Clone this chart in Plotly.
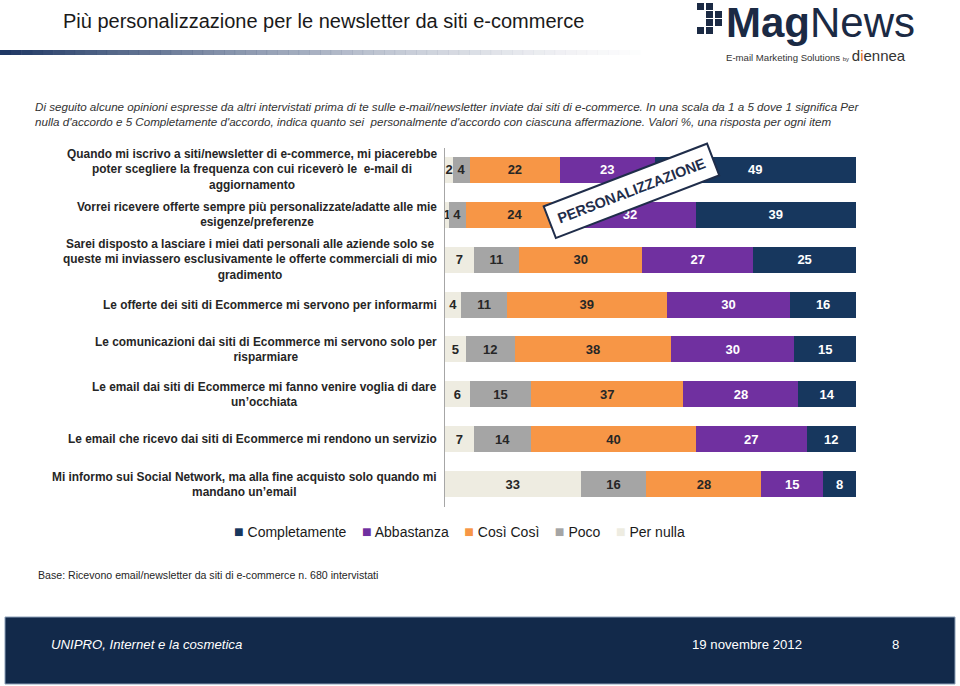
import plotly.graph_objects as go

categories = [
    "Quando mi iscrivo a siti/newsletter di e-commerce, mi piacerebbe<br>poter scegliere la frequenza con cui riceverò le  e-mail di<br>aggiornamento",
    "Vorrei ricevere offerte sempre più personalizzate/adatte alle mie<br>esigenze/preferenze",
    "Sarei disposto a lasciare i miei dati personali alle aziende solo se<br>queste mi inviassero esclusivamente le offerte commerciali di mio<br>gradimento",
    "Le offerte dei siti di Ecommerce mi servono per informarmi",
    "Le comunicazioni dai siti di Ecommerce mi servono solo per<br>risparmiare",
    "Le email dai siti di Ecommerce mi fanno venire voglia di dare<br>un’occhiata",
    "Le email che ricevo dai siti di Ecommerce mi rendono un servizio",
    "Mi informo sui Social Network, ma alla fine acquisto solo quando mi<br>mandano un’email",
]
per_nulla = [2, 1, 7, 4, 5, 6, 7, 33]
poco = [4, 4, 11, 11, 12, 15, 14, 16]
cosi_cosi = [22, 24, 30, 39, 38, 37, 40, 28]
abbastanza = [23, 32, 27, 30, 30, 28, 27, 15]
completamente = [49, 39, 25, 16, 15, 14, 12, 8]

series = [
    ("Per nulla", per_nulla, "#EEECE1", "#262626"),
    ("Poco", poco, "#A5A5A5", "#262626"),
    ("Così Così", cosi_cosi, "#F79646", "#262626"),
    ("Abbastanza", abbastanza, "#7030A0", "#FFFFFF"),
    ("Completamente", completamente, "#17375E", "#FFFFFF"),
]

W, H = 960, 686
def px(x): return x / W
def py(y): return 1 - y / H

FONT = "Liberation Sans, Arial, sans-serif"

fig = go.Figure()
for name, vals, color, tcolor in series:
    fig.add_trace(go.Bar(
        name=name, y=categories, x=vals, orientation="h",
        marker=dict(color=color, line=dict(width=0)),
        text=["<b>%d</b>" % v for v in vals], textposition="inside",
        insidetextanchor="middle", textangle=0,
        textfont=dict(family=FONT, size=13, color=tcolor),
        hoverinfo="skip", showlegend=False,
    ))

fig.update_layout(
    width=W, height=H, barmode="stack", bargap=0.42,
    margin=dict(l=0, r=0, t=0, b=0),
    paper_bgcolor="white", plot_bgcolor="white",
    font=dict(family=FONT, color="#262626"),
    uniformtext=dict(minsize=13, mode="show"),
    xaxis=dict(domain=[px(445), px(856)], range=[0, 100], showgrid=False,
               zeroline=False, showticklabels=False, showline=False, fixedrange=True),
    yaxis=dict(domain=[py(506.5), py(147.5)], categoryorder="array",
               categoryarray=categories, range=[7.5, -0.5], showgrid=False,
               zeroline=False, showticklabels=False, showline=True,
               linecolor="#A6A6A6", linewidth=1, ticks="", fixedrange=True),
    showlegend=False,
)

ann = []
for c in categories:
    ann.append(dict(xref="paper", yref="y", x=px(439), y=c, xanchor="right",
                    yanchor="middle", align="center", showarrow=False,
                    text="<b>" + c.replace("<br>", "</b><br><b>") + "</b>",
                    font=dict(family=FONT, size=11.9, color="#262626")))

# Legend (reversed order, as in the reference)
leg_parts = []
for name, vals, color, tcolor in reversed(series):
    leg_parts.append("<span style='color:%s;font-size:16px'>■</span> %s" % (color, name))
ann.append(dict(xref="paper", yref="paper", x=px(459), y=py(531), xanchor="center", yanchor="middle",
                showarrow=False, text="    ".join(leg_parts),
                font=dict(family=FONT, size=14, color="#1a1a1a")))

# Title
ann.append(dict(xref="paper", yref="paper", x=px(61), y=py(21), xanchor="left", yanchor="middle",
                showarrow=False, text="Più personalizzazione per le newsletter da siti e-commerce",
                font=dict(family=FONT, size=20, color="#1a1a1a")))
# Subtitle
ann.append(dict(xref="paper", yref="paper", x=px(33), y=py(114), xanchor="left", yanchor="middle",
                showarrow=False, align="left",
                text="<i>Di seguito alcune opinioni espresse da altri intervistati prima di te sulle e-mail/newsletter inviate dai siti di e-commerce. In una scala da 1 a 5 dove 1 significa Per</i><br><i>nulla d'accordo e 5 Completamente d'accordo, indica quanto sei  personalmente d'accordo con ciascuna affermazione. Valori %, una risposta per ogni item</i>",
                font=dict(family=FONT, size=11.62, color="#333333")))
# Base
ann.append(dict(xref="paper", yref="paper", x=px(36), y=py(575), xanchor="left", yanchor="middle",
                showarrow=False, text="Base: Ricevono email/newsletter da siti di e-commerce n. 680 intervistati",
                font=dict(family=FONT, size=10.6, color="#262626")))
# Footer texts
ann.append(dict(xref="paper", yref="paper", x=px(49), y=py(644), xanchor="left", yanchor="middle",
                showarrow=False, text="<i>UNIPRO, Internet e la cosmetica</i>",
                font=dict(family=FONT, size=13.2, color="white")))
ann.append(dict(xref="paper", yref="paper", x=px(690), y=py(644), xanchor="left", yanchor="middle",
                showarrow=False, text="19 novembre 2012",
                font=dict(family=FONT, size=13.2, color="white")))
ann.append(dict(xref="paper", yref="paper", x=px(895), y=py(644), xanchor="center", yanchor="middle",
                showarrow=False, text="8", font=dict(family=FONT, size=13.2, color="white")))
# Logo
ann.append(dict(xref="paper", yref="paper", x=px(724), y=py(-3), xanchor="left", yanchor="top",
                showarrow=False, text="<b>Mag</b>News",
                font=dict(family=FONT, size=42, color="#1B2A44")))
ann.append(dict(xref="paper", yref="paper", x=px(724), y=py(55), xanchor="left", yanchor="middle",
                showarrow=False,
                text="E-mail Marketing Solutions <span style='font-size:6px'>by</span> <span style='font-size:15px;color:#333'>d</span><span style='font-size:15px;color:#E2681F'>i</span><span style='font-size:15px;color:#333'>ennea</span>",
                font=dict(family=FONT, size=9.6, color="#333333")))
# Stamp
ann.append(dict(xref="paper", yref="paper", x=px(631), y=py(191), xanchor="center", yanchor="middle",
                showarrow=False, text="<b>PERSONALIZZAZIONE</b>", textangle=-21,
                font=dict(family=FONT, size=14.5, color="#1F2D4A"),
                bgcolor="white", bordercolor="#1F2D4A", borderwidth=2, borderpad=8))

shapes = []
# gradient line under title
n = 60
x0, x1 = 0, 640
for i in range(n):
    a = 1 - i / n
    shapes.append(dict(type="rect", xref="paper", yref="paper",
                       x0=px(x0 + (x1 - x0) * i / n), x1=px(x0 + (x1 - x0) * (i + 1) / n + 0.5),
                       y0=py(55), y1=py(50), line=dict(width=0), layer="below",
                       fillcolor=f"rgba({int(31 + (230-31)*(1-a))},{int(56 + (230-56)*(1-a))},{int(100 + (235-100)*(1-a))},{a**0.6:.3f})"))
# footer band
shapes.append(dict(type="rect", xref="paper", yref="paper", x0=px(5), x1=px(955),
                   y0=py(684), y1=py(617), line=dict(width=1, color="#8CA0B8"), fillcolor="#12294A",
                   layer="below"))
# logo icon squares
for (sx, sy) in [(697, 3), (706, 3), (706, 11), (715, 11), (715, 19), (706, 19), (706, 27), (697, 27)]:
    shapes.append(dict(type="rect", xref="paper", yref="paper", x0=px(sx), x1=px(sx + 7),
                       y0=py(sy + 7), y1=py(sy), line=dict(width=0), fillcolor="#1B2A44"))

fig.update_layout(annotations=ann, shapes=shapes)
fig.write_html("out.html", config={"displayModeBar": False},
               post_script="document.body.style.margin='0';document.body.style.overflow='hidden';")
